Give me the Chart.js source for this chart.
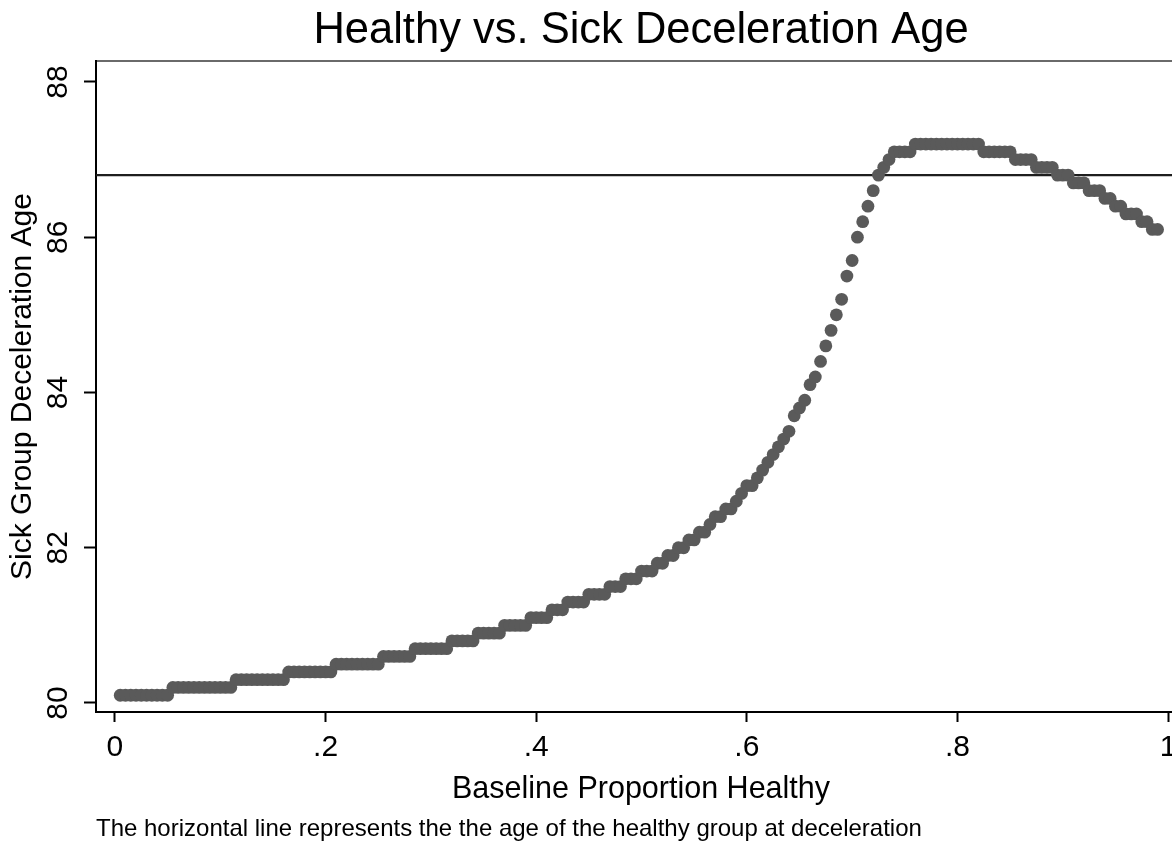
<!DOCTYPE html>
<html>
<head>
<meta charset="utf-8">
<title>Healthy vs. Sick Deceleration Age</title>
<script src="https://cdn.jsdelivr.net/npm/chart.js@4.4.1/dist/chart.umd.min.js"></script>
<style>
  html, body { margin: 0; padding: 0; background: #ffffff; overflow: hidden; }
  #wrap { width: 1186px; height: 846px; }
</style>
</head>
<body>
<div id="wrap"><canvas id="chart"></canvas></div>
<script>
// Baseline share of the cohort that starts out healthy
const proportionHealthy = [
  0.005, 0.010, 0.015, 0.020, 0.025, 0.030, 0.035, 0.040, 0.045, 0.050,
  0.055, 0.060, 0.065, 0.070, 0.075, 0.080, 0.085, 0.090, 0.095, 0.100,
  0.105, 0.110, 0.115, 0.120, 0.125, 0.130, 0.135, 0.140, 0.145, 0.150,
  0.155, 0.160, 0.165, 0.170, 0.175, 0.180, 0.185, 0.190, 0.195, 0.200,
  0.205, 0.210, 0.215, 0.220, 0.225, 0.230, 0.235, 0.240, 0.245, 0.250,
  0.255, 0.260, 0.265, 0.270, 0.275, 0.280, 0.285, 0.290, 0.295, 0.300,
  0.305, 0.310, 0.315, 0.320, 0.325, 0.330, 0.335, 0.340, 0.345, 0.350,
  0.355, 0.360, 0.365, 0.370, 0.375, 0.380, 0.385, 0.390, 0.395, 0.400,
  0.405, 0.410, 0.415, 0.420, 0.425, 0.430, 0.435, 0.440, 0.445, 0.450,
  0.455, 0.460, 0.465, 0.470, 0.475, 0.480, 0.485, 0.490, 0.495, 0.500,
  0.505, 0.510, 0.515, 0.520, 0.525, 0.530, 0.535, 0.540, 0.545, 0.550,
  0.555, 0.560, 0.565, 0.570, 0.575, 0.580, 0.585, 0.590, 0.595, 0.600,
  0.605, 0.610, 0.615, 0.620, 0.625, 0.630, 0.635, 0.640, 0.645, 0.650,
  0.655, 0.660, 0.665, 0.670, 0.675, 0.680, 0.685, 0.690, 0.695, 0.700,
  0.705, 0.710, 0.715, 0.720, 0.725, 0.730, 0.735, 0.740, 0.745, 0.750,
  0.755, 0.760, 0.765, 0.770, 0.775, 0.780, 0.785, 0.790, 0.795, 0.800,
  0.805, 0.810, 0.815, 0.820, 0.825, 0.830, 0.835, 0.840, 0.845, 0.850,
  0.855, 0.860, 0.865, 0.870, 0.875, 0.880, 0.885, 0.890, 0.895, 0.900,
  0.905, 0.910, 0.915, 0.920, 0.925, 0.930, 0.935, 0.940, 0.945, 0.950,
  0.955, 0.960, 0.965, 0.970, 0.975, 0.980, 0.985, 0.990
];

// Deceleration age of the sick group for each baseline share
const sickDecelerationAge = [
  80.1, 80.1, 80.1, 80.1, 80.1, 80.1, 80.1, 80.1, 80.1, 80.1,
  80.2, 80.2, 80.2, 80.2, 80.2, 80.2, 80.2, 80.2, 80.2, 80.2,
  80.2, 80.2, 80.3, 80.3, 80.3, 80.3, 80.3, 80.3, 80.3, 80.3,
  80.3, 80.3, 80.4, 80.4, 80.4, 80.4, 80.4, 80.4, 80.4, 80.4,
  80.4, 80.5, 80.5, 80.5, 80.5, 80.5, 80.5, 80.5, 80.5, 80.5,
  80.6, 80.6, 80.6, 80.6, 80.6, 80.6, 80.7, 80.7, 80.7, 80.7,
  80.7, 80.7, 80.7, 80.8, 80.8, 80.8, 80.8, 80.8, 80.9, 80.9,
  80.9, 80.9, 80.9, 81.0, 81.0, 81.0, 81.0, 81.0, 81.1, 81.1,
  81.1, 81.1, 81.2, 81.2, 81.2, 81.3, 81.3, 81.3, 81.3, 81.4,
  81.4, 81.4, 81.4, 81.5, 81.5, 81.5, 81.6, 81.6, 81.6, 81.7,
  81.7, 81.7, 81.8, 81.8, 81.9, 81.9, 82.0, 82.0, 82.1, 82.1,
  82.2, 82.2, 82.3, 82.4, 82.4, 82.5, 82.5, 82.6, 82.7, 82.8,
  82.8, 82.9, 83.0, 83.1, 83.2, 83.3, 83.4, 83.5, 83.7, 83.8,
  83.9, 84.1, 84.2, 84.4, 84.6, 84.8, 85.0, 85.2, 85.5, 85.7,
  86.0, 86.2, 86.4, 86.6, 86.8, 86.9, 87.0, 87.1, 87.1, 87.1,
  87.1, 87.2, 87.2, 87.2, 87.2, 87.2, 87.2, 87.2, 87.2, 87.2,
  87.2, 87.2, 87.2, 87.2, 87.1, 87.1, 87.1, 87.1, 87.1, 87.1,
  87.0, 87.0, 87.0, 87.0, 86.9, 86.9, 86.9, 86.9, 86.8, 86.8,
  86.8, 86.7, 86.7, 86.7, 86.6, 86.6, 86.6, 86.5, 86.5, 86.4,
  86.4, 86.3, 86.3, 86.3, 86.2, 86.2, 86.1, 86.1
];

// Deceleration age of the healthy group (reference line)
const healthyDecelerationAge = 86.8;

const xTickValues = [0, 0.2, 0.4, 0.6, 0.8, 1];
const xTickLabels = ['0', '.2', '.4', '.6', '.8', '1'];
const yTickValues = [80, 82, 84, 86, 88];
const yTickLabels = ['80', '82', '84', '86', '88'];

const FONT = '"Liberation Sans", Arial, Helvetica, sans-serif';
Chart.defaults.font.family = FONT;
Chart.defaults.color = '#000000';

const X_MIN = -0.018, X_MAX = 1.017;
const Y_MIN = 79.884, Y_MAX = 88.27;

function clearPadding(scale) {
  scale.paddingLeft = 0;
  scale.paddingRight = 0;
  scale.paddingTop = 0;
  scale.paddingBottom = 0;
}

const points = proportionHealthy.map((p, i) => ({ x: p, y: sickDecelerationAge[i] }));

new Chart(document.getElementById('chart'), {
  type: 'scatter',
  data: {
    datasets: [
      {
        label: 'Sick group',
        data: points,
        pointRadius: 6.4,
        pointHoverRadius: 6.4,
        pointBackgroundColor: '#5a5a5a',
        pointBorderWidth: 0,
        xAxisID: 'x',
        yAxisID: 'y'
      },
      {
        label: 'Healthy group',
        data: [{ x: X_MIN, y: healthyDecelerationAge }, { x: X_MAX, y: healthyDecelerationAge }],
        showLine: true,
        borderColor: '#1e1e1e',
        borderWidth: 2.4,
        pointRadius: 0,
        xAxisID: 'x',
        yAxisID: 'y'
      }
    ]
  },
  options: {
    responsive: true,
    maintainAspectRatio: false,
    animation: false,
    devicePixelRatio: 1,
    layout: { padding: 0, autoPadding: false },
    plugins: {
      legend: { display: false },
      tooltip: { enabled: false },
      title: {
        display: true,
        text: 'Healthy vs. Sick Deceleration Age',
        fullSize: false,
        font: { size: 43.5, weight: 'normal', lineHeight: 1.2 },
        color: '#000000',
        padding: { top: 4.4, bottom: 4.4 }
      },
      subtitle: {
        display: true,
        position: 'bottom',
        align: 'start',
        fullSize: false,
        text: 'The horizontal line represents the the age of the healthy group at deceleration',
        font: { size: 24, weight: 'normal', lineHeight: 1.2 },
        color: '#000000',
        padding: { top: 6.6, bottom: 2.6 }
      }
    },
    scales: {
      x: {
        type: 'linear',
        position: 'bottom',
        min: X_MIN,
        max: X_MAX,
        afterBuildTicks: (s) => { s.ticks = xTickValues.map(v => ({ value: v })); },
        afterFit: (s) => { s.height = 96; clearPadding(s); },
        ticks: {
          autoSkip: false,
          maxRotation: 0,
          minRotation: 0,
          padding: 8,
          font: { size: 30 },
          color: '#000000',
          callback: (v) => {
            const i = xTickValues.indexOf(v);
            return i >= 0 ? xTickLabels[i] : '';
          }
        },
        grid: {
          display: true,
          drawOnChartArea: false,
          drawTicks: true,
          tickLength: 10,
          tickColor: '#000000',
          tickWidth: 2
        },
        border: { display: true, color: '#000000', width: 2 },
        title: {
          display: true,
          text: 'Baseline Proportion Healthy',
          font: { size: 30.5 },
          color: '#000000',
          padding: { top: 6, bottom: 0 }
        }
      },
      xTop: {
        type: 'linear',
        position: 'top',
        min: X_MIN,
        max: X_MAX,
        afterFit: (s) => { s.height = 0; clearPadding(s); },
        ticks: { display: false },
        grid: { display: false },
        border: { display: true, color: '#6a6a6a', width: 2 }
      },
      y: {
        type: 'linear',
        position: 'left',
        min: Y_MIN,
        max: Y_MAX,
        afterBuildTicks: (s) => { s.ticks = yTickValues.map(v => ({ value: v })); },
        afterFit: (s) => { s.width = 96; clearPadding(s); },
        ticks: {
          autoSkip: false,
          minRotation: 90,
          maxRotation: 90,
          crossAlign: 'center',
          padding: 9,
          font: { size: 30 },
          color: '#000000',
          callback: (v) => {
            const i = yTickValues.indexOf(v);
            return i >= 0 ? yTickLabels[i] : '';
          }
        },
        grid: {
          display: true,
          drawOnChartArea: false,
          drawTicks: true,
          tickLength: 12,
          tickColor: '#000000',
          tickWidth: 2
        },
        border: { display: true, color: '#000000', width: 2 },
        title: {
          display: true,
          text: 'Sick Group Deceleration Age',
          font: { size: 30 },
          color: '#000000',
          padding: { top: 5, bottom: 0 }
        }
      }
    }
  }
});
</script>
</body>
</html>
